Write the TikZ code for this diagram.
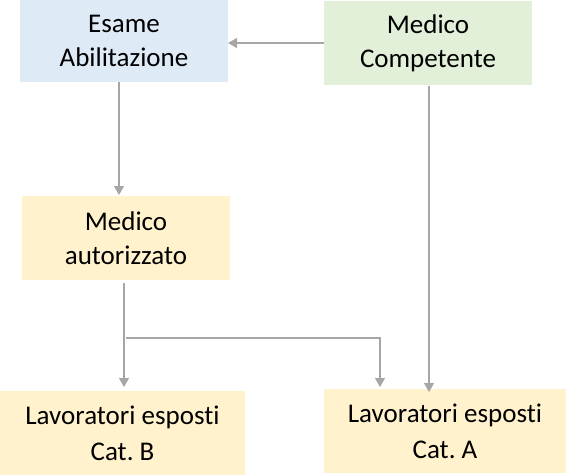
\documentclass[tikz,border=0pt]{standalone}
\usepackage{fontspec}
\setmainfont{Carlito}[Ligatures=NoCommon]
\usetikzlibrary{arrows.meta}
\frenchspacing

\definecolor{boxblue}{HTML}{DEEBF7}
\definecolor{boxgreen}{HTML}{E2F0D9}
\definecolor{boxyellow}{HTML}{FFF2CC}
\definecolor{linegray}{HTML}{A6A6A6}

\tikzset{
  box/.style={rectangle, inner sep=0pt, outer sep=0pt, align=center,
    minimum width=208, minimum height=84,
    font=\fontsize{27}{34}\selectfont},
  conn/.style={draw=linegray, line width=1.2pt,
    -{Triangle[width=10pt,length=9pt]}},
}

\begin{document}
\begin{tikzpicture}[x=1pt, y=-1pt]
\useasboundingbox (0,0) rectangle (566,475);

\coordinate (E) at (124,41);
\coordinate (M) at (428,43);
\coordinate (R) at (126,238);
\coordinate (B) at (122.5,433);
\coordinate (A) at (445,431);

\node[box, fill=boxblue, minimum height=82] (esame) at (E) {Esame\\Abilitazione};
\node[box, fill=boxgreen] (medcomp) at (M) {Medico\\Competente};
\node[box, fill=boxyellow] (medaut) at (R) {Medico\\autorizzato};

\node[box, fill=boxyellow, minimum width=245, font=\fontsize{27}{36}\selectfont] (catB) at (B) {Lavoratori esposti\\Cat. B};
\node[box, fill=boxyellow, minimum width=242, font=\fontsize{27}{36}\selectfont] (catA) at (A) {Lavoratori esposti\\Cat. A};

\coordinate (split) at (medaut.south |- 0,338);

\draw[conn] (medcomp.west) -- (medcomp.west -| esame.east);
\draw[conn, shorten >=1pt] ([xshift=-5]esame.south) -- ([xshift=-5]esame.south |- medaut.north);
\draw[conn, shorten <=3pt, shorten >=4pt] ([xshift=-2]medaut.south) -- ([xshift=-2]medaut.south |- catB.north);
\draw[conn, shorten >=2pt] (split) -| ([xshift=-65]catA.north);
\draw[conn, shorten <=1pt, shorten >=-3pt] ([xshift=1]medcomp.south) -- ([xshift=1]medcomp.south |- catA.north);

\end{tikzpicture}
\end{document}
